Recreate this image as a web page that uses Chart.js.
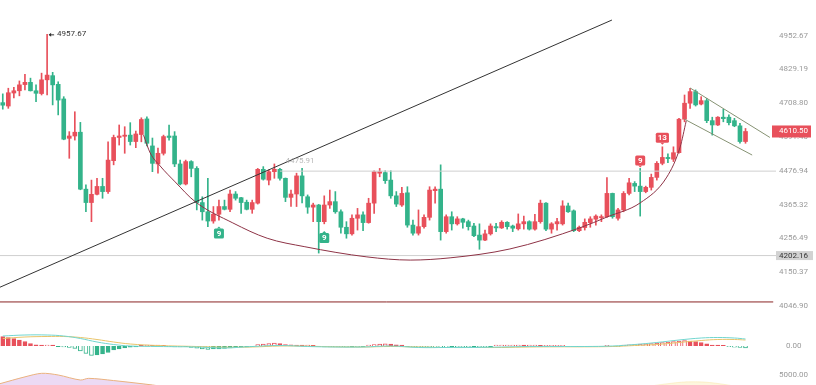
<!DOCTYPE html>
<html>
<head>
<meta charset="utf-8">
<script src="https://cdn.jsdelivr.net/npm/chart.js"></script>
<style>
  html, body { margin: 0; padding: 0; background: #fff; overflow: hidden; width: 816px; height: 385px; }
  canvas { position: absolute; left: 0; }
</style>
</head>
<body>
<canvas id="main" width="816" height="320" style="top:0px"></canvas>
<canvas id="macd" width="816" height="50" style="top:320px"></canvas>
<canvas id="lower" width="816" height="40" style="top:366px"></canvas>
<script>
// ---- data ----
const opens = [4711,4699,4745,4753,4775,4783,4753,4743,4792,4807,4776,4724,4587,4595,4608,4416,4372,4399,4425,4408,
  4511,4590,4594,4598,4576,4600,4654,4561,4500,4536,4595,4595,4500,4433,4508,4485,4372,4342,4312,4334,
  4359,4350,4400,4388,4373,4350,4370,4482,4446,4474,4482,4452,4389,4400,4460,4391,4357,4364,4310,4364,
  4375,4342,4292,4271,4321,4332,4307,4370,4469,4471,4446,4394,4364,4404,4299,4273,4294,4324,4411,4416,
  4278,4326,4303,4319,4310,4296,4267,4251,4271,4294,4290,4308,4296,4287,4303,4310,4286,4310,4370,4286,
  4303,4303,4361,4345,4281,4291,4307,4318,4323,4326,4402,4321,4348,4402,4435,4426,4408,4422,4455,4502,
  4522,4516,4538,4653,4709,4750,4706,4718,4648,4633,4660,4660,4648,4630,4576];
const highs = [4742,4762,4765,4788,4812,4798,4774,4816,4957.67,4819,4785,4732,4610,4679,4642,4430,4446,4452,4452,4575,
  4598,4633,4627,4641,4612,4658,4661,4588,4554,4598,4633,4610,4513,4513,4511,4491,4391,4452,4359,4380,
  4380,4413,4408,4389,4380,4380,4485,4491,4480,4500,4485,4453,4413,4469,4485,4397,4370,4366,4394,4413,
  4408,4348,4310,4332,4353,4342,4386,4477,4485,4477,4477,4408,4422,4424,4315,4348,4332,4424,4424,4497,
  4332,4342,4326,4321,4315,4305,4303,4283,4303,4305,4313,4310,4299,4335,4328,4313,4334,4380,4372,4307,
  4321,4378,4370,4348,4296,4319,4326,4332,4332,4454,4403,4353,4408,4452,4441,4485,4426,4466,4508,4558,
  4534,4558,4656,4738,4762,4756,4732,4726,4660,4662,4688,4668,4656,4639,4621];
const lows = [4688,4691,4728,4735,4756,4752,4714,4738,4738,4703,4668,4582,4519,4581,4414,4342,4310,4397,4386,4402,
  4497,4564,4536,4564,4555,4575,4561,4474,4469,4530,4581,4491,4430,4430,4457,4348,4315,4294,4305,4315,
  4348,4342,4380,4337,4348,4337,4367,4446,4430,4452,4446,4375,4359,4359,4371,4337,4310,4210,4303,4353,
  4337,4273,4257,4267,4283,4281,4305,4337,4457,4435,4386,4359,4359,4292,4267,4267,4289,4315,4370,4251,
  4273,4283,4299,4289,4283,4262,4222,4249,4267,4278,4288,4286,4278,4283,4286,4283,4283,4305,4281,4273,
  4283,4299,4340,4278,4278,4283,4292,4299,4310,4324,4321,4315,4342,4397,4408,4328,4404,4413,4446,4497,
  4504,4508,4536,4644,4691,4699,4703,4641,4598,4631,4644,4633,4627,4570,4570];
const closes = [4702,4746,4753,4774,4783,4753,4744,4792,4809,4774,4720,4584,4595,4608,4416,4372,4399,4425,4408,4513,
  4590,4595,4598,4576,4602,4652,4570,4502,4536,4593,4590,4500,4433,4508,4485,4372,4342,4312,4334,4359,
  4350,4400,4386,4372,4350,4372,4482,4449,4474,4482,4452,4389,4400,4460,4394,4357,4364,4310,4364,4375,
  4342,4292,4271,4321,4332,4307,4370,4474,4474,4444,4394,4367,4402,4299,4273,4294,4324,4413,4416,4278,
  4326,4303,4319,4308,4294,4265,4251,4271,4296,4290,4308,4294,4289,4303,4310,4286,4310,4370,4286,4303,
  4310,4361,4342,4281,4292,4308,4319,4328,4326,4402,4326,4348,4402,4437,4426,4408,4422,4455,4502,4522,
  4518,4538,4653,4709,4750,4703,4718,4648,4633,4660,4655,4641,4630,4576,4610.50];

const priceTicks = [4046.90, 4150.37, 4256.49, 4365.32, 4476.94, 4591.40, 4708.80, 4829.19, 4952.67];
const peakHigh = 4957.67;
const supportLevel = 4202.16;
const neckLevel = 4475.91;
const lowerLevel = 4059;

// drawn lines, as [candle index, price]
const trendLine = [[-0.5, 4104], [109.9, 5011]];
const cupCurve = [[25.4, 4598], [26.6, 4537], [28.4, 4493], [31.1, 4440], [34.7, 4375], [41.5, 4306], [47.7, 4257],
  [54.5, 4230], [65.7, 4198], [73.5, 4188], [80.7, 4195], [91.5, 4223], [104.1, 4290], [109, 4325],
  [115, 4371], [119.8, 4456], [122.2, 4557], [123.3, 4647]];
const channelTop = [[124, 4763], [138.4, 4590]];
const channelBottom = [[122.9, 4654], [135.2, 4530]];

// count-down tags: candle index, price, label
const tags = [
  { i: 39, v: 4272, text: '9', up: false },
  { i: 58, v: 4258, text: '9', up: false },
  { i: 115, v: 4512, text: '9', up: true },
  { i: 119, v: 4589, text: '13', up: true }
];

// MACD panel
const macdHist = [9.3,8.3,7.3,6,4.5,2.5,1.2,1,1,0.8,-0.6,-1,-1.5,-2.5,-5,-7.5,-9.5,-9,-8,-6.5,
  -4,-3,-2,-1.2,-0.8,0.6,0.8,0.6,0.8,0.6,-0.6,-0.8,-0.8,-0.6,-1.5,-2.2,-3,-3.3,-3,-2.8,
  -2.5,-2,-1.3,-1,-0.8,-0.6,1.5,2,2.5,3,2.5,1.5,1.2,1,0.8,0.8,0.6,-0.6,-0.8,-0.8,
  -0.8,-1,-1,-0.8,-0.8,-0.6,1,1.5,2,2.2,2,1.2,1,-0.6,-0.8,-1,-1,-1,-1.2,-1.2,
  -1.2,-1,-1,-1,-1,-0.8,-0.8,-0.8,-0.6,0.8,1,1,1,1,0.8,0.8,0.8,0.6,0.6,0.6,
  0.6,0.6,-0.6,-0.6,-0.6,-0.6,-0.6,-0.6,-0.6,0.6,-0.6,-0.6,0.8,1.2,1.5,1.8,2.2,2.5,3,3.3,
  3.8,4.3,4.8,5.3,5,4.5,3.5,2.2,1,0.8,0.6,-0.6,-1.2,-1.5,-1.8];
const difLine = [[0,10],[4,11],[8,11],[11,10],[14,7.5],[17,4],[20,1.5],[23,0],[28,-0.5],[35,-1],[40,-2],[45,-0.5],
  [50,0.5],[55,-0.5],[60,-1],[65,-1],[70,0],[75,-1.5],[80,-1.5],[85,-1.5],[90,-1],[95,-0.5],[100,-0.5],
  [105,-0.5],[110,0],[114,1.5],[118,3.5],[122,6],[126,8],[129,8.5],[132,8],[134,7]];
const deaLine = [[0,7.5],[4,9],[8,9.5],[11,9.5],[14,8.5],[17,6.5],[20,4],[23,2],[28,0.5],[35,-0.5],[40,-1.2],[45,-1],
  [50,0],[55,-0.2],[60,-0.8],[65,-1],[70,-0.5],[75,-1],[80,-1.5],[85,-1.5],[90,-1.5],[95,-1],[100,-0.8],
  [105,-0.8],[110,-0.5],[114,0.5],[118,1.5],[122,3.5],[126,5.5],[129,6.5],[132,6.5],[134,6]];

// bottom panel
const lowerArea = [[-0.5,3600],[4,4700],[7,5270],[10,5000],[14,4190],[15.5,4460],[20,4100],[27,3390],[32,2800],[60,2500],[139.5,2500]];
const lowerGlow = [[112,2500],[120,3600],[125,3900],[130,3500],[136,2500]];

// ---- style ----
const UP = '#e8505b', DOWN = '#33b38a';
const Y_MIN = 4004.6, Y_MAX = 5086.6;
Chart.defaults.font.family = 'Roboto';
Chart.defaults.font.size = 8;
Chart.defaults.color = '#9a9a9a';

const pts = arr => arr.map(p => ({ x: p[0], y: p[1] }));
const flat = (v, a, b) => [{ x: a, y: v }, { x: b, y: v }];
const idx = closes.map((_, i) => i);
const candleColor = idx.map(i => closes[i] >= opens[i] ? UP : DOWN);

const lineDs = (data, color, extra) => Object.assign({
  type: 'line', data, borderColor: color, borderWidth: 1, pointRadius: 0, fill: false
}, extra || {});

const xAxis = { type: 'linear', min: -0.5, max: 139.5, offset: false, display: false };
const rightAxis = (extra) => Object.assign({
  position: 'right',
  grid: { display: false, drawTicks: false },
  border: { display: false },
  afterFit: s => { s.width = 40; s.paddingTop = 0; s.paddingBottom = 0; }
}, extra);
const baseOptions = {
  responsive: false, animation: false, devicePixelRatio: 1,
  layout: { padding: 0, autoPadding: false },
  plugins: { legend: { display: false }, tooltip: { enabled: false } }
};

function roundRect(ctx, x, y, w, h, r) {
  ctx.beginPath();
  ctx.moveTo(x + r, y);
  ctx.arcTo(x + w, y, x + w, y + h, r);
  ctx.arcTo(x + w, y + h, x, y + h, r);
  ctx.arcTo(x, y + h, x, y, r);
  ctx.arcTo(x, y, x + w, y, r);
  ctx.closePath();
}

const overlay = {
  id: 'overlay',
  afterDatasetsDraw(chart) {
    const { ctx, scales: { x, y } } = chart;
    ctx.save();
    ctx.font = '8px Roboto';
    ctx.textBaseline = 'middle';

    // peak tag
    const px = x.getPixelForValue(8), py = y.getPixelForValue(peakHigh);
    ctx.strokeStyle = '#333'; ctx.fillStyle = '#333'; ctx.lineWidth = 1;
    ctx.beginPath(); ctx.moveTo(px + 2, py + 0.5); ctx.lineTo(px + 7, py + 0.5); ctx.stroke();
    ctx.beginPath(); ctx.moveTo(px + 1.5, py + 0.5); ctx.lineTo(px + 4, py - 1.5); ctx.lineTo(px + 4, py + 2.5); ctx.fill();
    ctx.fillText(peakHigh.toFixed(2), px + 10, py);

    // level text
    ctx.fillStyle = 'rgba(160,160,160,0.75)';
    ctx.fillText(neckLevel.toFixed(2), x.getPixelForValue(51), y.getPixelForValue(neckLevel) - 10);

    // count tags
    ctx.font = 'bold 8px Roboto';
    ctx.textAlign = 'center';
    tags.forEach(t => {
      const cx = x.getPixelForValue(t.i), cy = y.getPixelForValue(t.v);
      const w = Math.max(10, ctx.measureText(t.text).width + 4), h = 10;
      ctx.fillStyle = t.up ? UP : DOWN;
      roundRect(ctx, cx - w / 2, cy - h / 2, w, h, 1.5);
      ctx.fill();
      ctx.beginPath();
      if (t.up) { ctx.moveTo(cx - 2, cy + h / 2); ctx.lineTo(cx + 2, cy + h / 2); ctx.lineTo(cx, cy + h / 2 + 2); }
      else { ctx.moveTo(cx - 2, cy - h / 2); ctx.lineTo(cx + 2, cy - h / 2); ctx.lineTo(cx, cy - h / 2 - 2); }
      ctx.fill();
      ctx.fillStyle = '#fff';
      ctx.fillText(t.text, cx, cy + 0.5);
    });
    ctx.restore();
  },
  afterDraw(chart) {
    const { ctx, scales: { y }, chartArea } = chart;
    ctx.save();
    ctx.font = '8px Roboto';
    ctx.textAlign = 'center';
    ctx.textBaseline = 'middle';
    const last = closes[closes.length - 1];
    let ly = y.getPixelForValue(last);
    ctx.fillStyle = UP;
    ctx.fillRect(chartArea.right - 4, ly - 6, 39, 12);
    ctx.fillStyle = '#fff';
    ctx.fillText(last.toFixed(2), 793.5, ly);
    ly = y.getPixelForValue(supportLevel);
    ctx.fillStyle = '#d2d2d2';
    ctx.fillRect(chartArea.right, ly - 4.5, 37, 9);
    ctx.fillStyle = '#333';
    ctx.fillText(supportLevel.toFixed(2), 793.5, ly);
    ctx.restore();
  }
};

new Chart(document.getElementById('main'), {
  type: 'bar',
  data: {
    datasets: [
      lineDs(pts(trendLine), '#333'),
      lineDs(pts(cupCurve), '#8e3346', { cubicInterpolationMode: 'monotone' }),
      lineDs(pts(channelTop), '#869273'),
      lineDs(pts(channelBottom), '#869273'),
      lineDs(flat(neckLevel, 50, 139.5), '#cfcfcf'),
      lineDs(flat(supportLevel, -0.5, 139.5), '#cfcfcf'),
      lineDs(flat(lowerLevel, -0.5, 139), '#8a2424'),
      {
        data: idx.map(i => ({ x: i, y: [opens[i], closes[i]] })),
        backgroundColor: candleColor, barThickness: 4, minBarLength: 1, grouped: false
      },
      {
        data: idx.map(i => ({ x: i, y: [lows[i], highs[i]] })),
        backgroundColor: candleColor, barThickness: 1, grouped: false
      }
    ]
  },
  options: Object.assign({}, baseOptions, {
    scales: {
      x: xAxis,
      y: rightAxis({
        type: 'logarithmic', min: Y_MIN, max: Y_MAX, bounds: 'data',
        afterBuildTicks: s => { s.ticks = priceTicks.map(v => ({ value: v })); },
        ticks: { padding: 3, crossAlign: 'center', color: '#9a9a9a', callback: v => Number(v).toFixed(2) }
      })
    }
  }),
  plugins: [overlay]
});

new Chart(document.getElementById('macd'), {
  type: 'bar',
  data: {
    datasets: [
      lineDs(pts(difLine), '#72d6cf', { tension: 0.4 }),
      lineDs(pts(deaLine), '#e9c46a', { tension: 0.4 }),
      {
        data: macdHist.map((v, i) => ({ x: i, y: v })),
        barThickness: 4, grouped: false, borderWidth: 1,
        borderColor: macdHist.map(v => v >= 0 ? UP : DOWN),
        backgroundColor: macdHist.map((v, i) =>
          (i > 0 && Math.abs(v) >= Math.abs(macdHist[i - 1])) ? '#ffffff' : (v >= 0 ? UP : DOWN))
      }
    ]
  },
  options: Object.assign({}, baseOptions, {
    scales: {
      x: xAxis,
      y: rightAxis({
        min: -24, max: 26,
        afterBuildTicks: s => { s.ticks = [{ value: 0 }]; },
        ticks: { padding: 10, crossAlign: 'center', color: '#9a9a9a', callback: v => Number(v).toFixed(2) }
      })
    }
  })
});

new Chart(document.getElementById('lower'), {
  type: 'line',
  data: {
    datasets: [
      lineDs(pts(lowerGlow), 'rgba(250,230,170,0.5)', { fill: 'origin', backgroundColor: 'rgba(252,240,200,0.6)', tension: 0.4 }),
      lineDs(pts(lowerArea), '#eab27e', { fill: 'origin', backgroundColor: 'rgba(233,212,242,0.85)', tension: 0.3 })
    ]
  },
  options: Object.assign({}, baseOptions, {
    scales: {
      x: xAxis,
      y: rightAxis({
        min: 0, max: 6450,
        afterBuildTicks: s => { s.ticks = [{ value: 5000 }]; },
        ticks: { padding: 3, crossAlign: 'center', color: '#9a9a9a', callback: v => Number(v).toFixed(2) }
      })
    }
  })
});
</script>
</body>
</html>
